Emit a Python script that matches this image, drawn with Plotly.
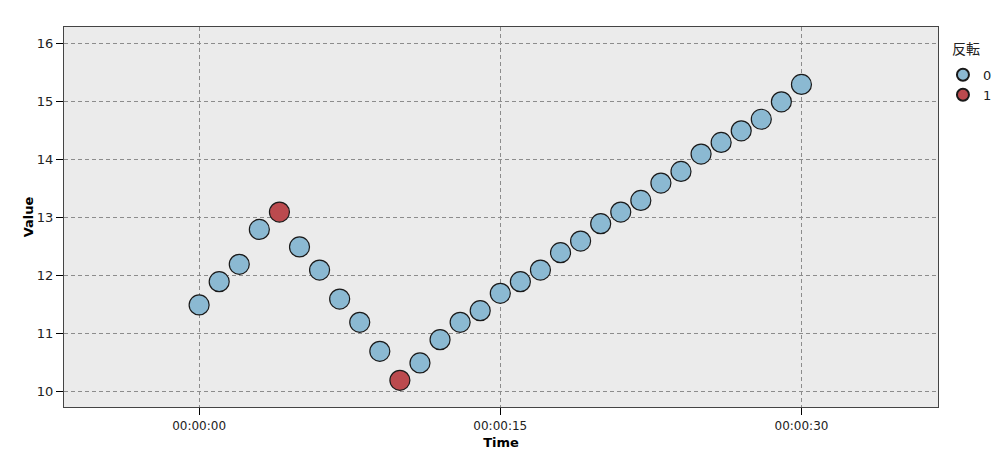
import pandas as pd
import plotly.graph_objects as go

# seconds since start, value, reversal flag
seconds = list(range(31))
values = [11.5, 11.9, 12.2, 12.8, 13.1, 12.5, 12.1, 11.6, 11.2, 10.7, 10.2,
          10.5, 10.9, 11.2, 11.4, 11.7, 11.9, 12.1, 12.4, 12.6, 12.9,
          13.1, 13.3, 13.6, 13.8, 14.1, 14.3, 14.5, 14.7, 15.0, 15.3]
flags = [0, 0, 0, 0, 1, 0, 0, 0, 0, 0, 1,
         0, 0, 0, 0, 0, 0, 0, 0, 0, 0,
         0, 0, 0, 0, 0, 0, 0, 0, 0, 0]

base = pd.Timestamp("2000-01-01 00:00:00")
df = pd.DataFrame({"t": [base + pd.Timedelta(seconds=s) for s in seconds],
                   "v": values, "f": flags})

colors = {0: "#8BB9D2", 1: "#BB4A4E"}
font = "DejaVu Sans"

fig = go.Figure()
for f in [0, 1]:
    d = df[df["f"] == f]
    fig.add_trace(go.Scatter(
        x=d["t"], y=d["v"], mode="markers", name=str(f),
        marker=dict(size=20, color=colors[f], line=dict(color="#1a1a1a", width=1.2)),
    ))

grid = dict(showgrid=True, gridcolor="#8c8c8c", griddash="4px,3px", gridwidth=1)
fig.update_xaxes(
    type="date", automargin=False,
    range=[base + pd.Timedelta(seconds=-6.73), base + pd.Timedelta(seconds=36.8)],
    tickvals=[base + pd.Timedelta(seconds=s) for s in [0, 15, 30]],
    tickformat="%H:%M:%S",
    ticks="outside", ticklen=7, tickcolor="#000",
    showline=True, linecolor="#444", linewidth=1.2, mirror=True,
    zeroline=False,
    title=dict(text="<b>Time</b>", font=dict(size=13, color="#000"), standoff=6),
    tickfont=dict(size=12, color="#222"),
    **grid,
)
fig.update_yaxes(
    automargin=False,
    range=[9.74, 16.29],
    tickvals=[10, 11, 12, 13, 14, 15, 16],
    ticks="outside", ticklen=7, tickcolor="#000",
    showline=True, linecolor="#444", linewidth=1.2, mirror=True,
    zeroline=False,
    title=dict(text="<b>Value</b>", font=dict(size=13, color="#000"), standoff=0),
    tickfont=dict(size=13, color="#222"),
    **grid,
)

# legend title drawn as its own label so the gap above the items matches
fig.add_annotation(
    text="反転", xref="paper", yref="paper", x=1.014, y=0.945,
    xanchor="left", yanchor="middle", showarrow=False,
    font=dict(family="Noto Sans CJK JP", size=14, color="#222"),
)

# page body has an 8px margin, so the figure is sized and offset to suit
fig.update_layout(
    width=992, height=463,
    margin=dict(l=56, r=62, t=19, b=64),
    plot_bgcolor="#EBEBEB", paper_bgcolor="#FFFFFF",
    font=dict(family=font, size=13, color="#222"),
    legend=dict(
        xref="container", yref="container",
        x=0.9425, y=0.888, xanchor="left", yanchor="top",
        bgcolor="rgba(0,0,0,0)",
        font=dict(size=13), itemsizing="constant", tracegroupgap=0,
        itemwidth=30,
    ),
)

fig.write_html("out.html")
